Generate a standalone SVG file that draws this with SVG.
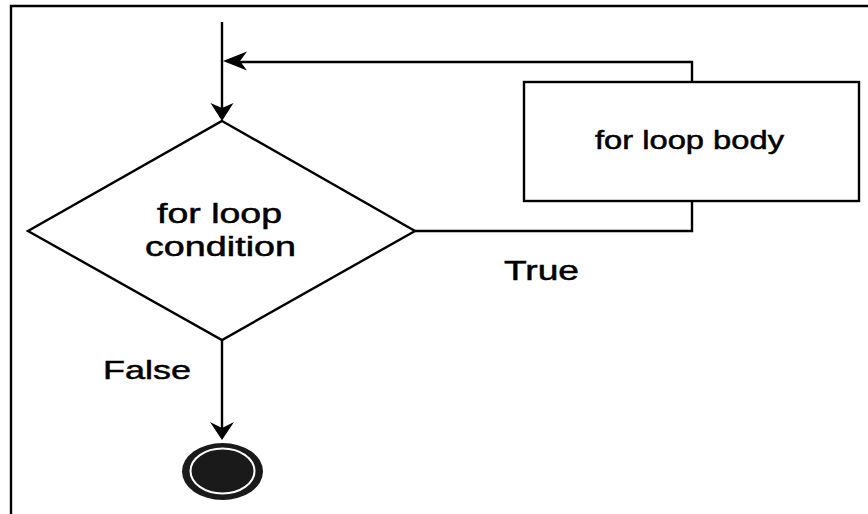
<svg xmlns="http://www.w3.org/2000/svg" width="868" height="514" viewBox="0 0 868 514">
<style>
.ln{fill:none;stroke:#000;stroke-width:2.4}
.shape{fill:#fff;stroke:#000;stroke-width:2.4}
.ah{fill:#000;stroke:none}
text{font-family:"Liberation Sans",Arial,sans-serif;fill:#000;stroke:#000;stroke-width:0.5}
</style>
<rect x="0" y="0" width="868" height="514" fill="#fff"/>
<g id="frame">
<path class="ln" d="M11,514 V6 H868" stroke-width="2.5"/>
</g>
<g id="connectors">
<path class="ln" d="M222,22 V112"/>
<path class="ah" d="M222,121 L210.5,103 L222,108 L233.5,103 Z"/>
<path class="ln" d="M415,231 H692 V62 H234"/>
<path class="ah" d="M223,61 L247,51.5 L240,61 L247,70.5 Z"/>
<path class="ln" d="M222,340 V432"/>
<path class="ah" d="M222,440 L210,422 L222,428 L234,422 Z"/>
</g>
<g id="condition">
<polygon class="shape" points="222,121 415,231 222,340 28,231"/>
<text x="157" y="223" font-size="27" textLength="125" lengthAdjust="spacingAndGlyphs">for loop</text>
<text x="145" y="256" font-size="27" textLength="151" lengthAdjust="spacingAndGlyphs">condition</text>
</g>
<g id="body">
<rect class="shape" x="524" y="82" width="335" height="119" stroke-width="2.6"/>
<text x="595" y="149" font-size="25" textLength="189" lengthAdjust="spacingAndGlyphs">for loop body</text>
</g>
<g id="label-true">
<text x="504" y="280" font-size="27" textLength="75" lengthAdjust="spacingAndGlyphs">True</text>
</g>
<g id="label-false">
<text x="103" y="379" font-size="26" textLength="88" lengthAdjust="spacingAndGlyphs">False</text>
</g>
<g id="end">
<ellipse cx="222.5" cy="471.5" rx="40.5" ry="28.5" fill="#1a1a1a"/>
<ellipse cx="222.5" cy="471" rx="32" ry="22.5" fill="#1a1a1a" stroke="#fff" stroke-width="2"/>
</g>
</svg>
